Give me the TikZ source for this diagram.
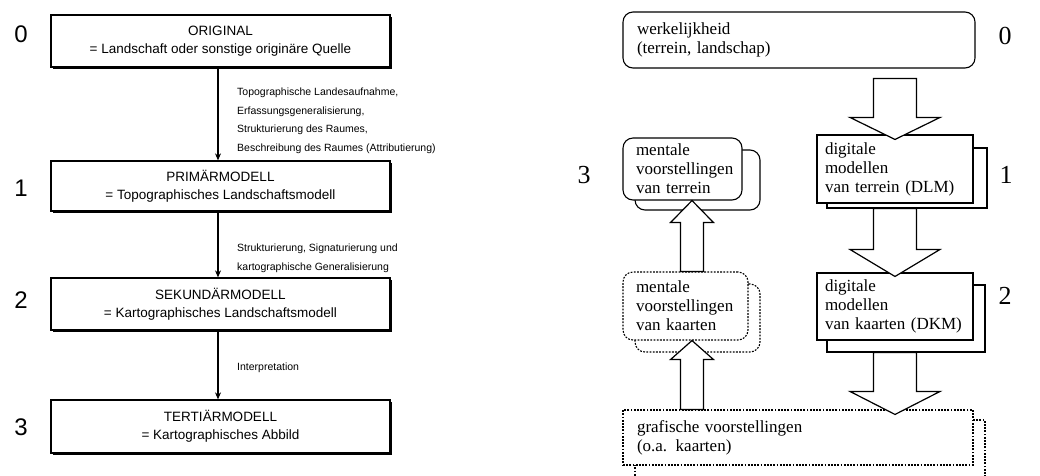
\documentclass[tikz,border=0pt]{standalone}
\usepackage{fontspec}
\setmainfont{Liberation Serif}
\newfontfamily\helv{Liberation Sans}
\usetikzlibrary{calc,arrows.meta,shadows}
\hyphenpenalty=10000
\exhyphenpenalty=10000

% hollow block arrow from #1 to its tip #2;
% #3 half shaft width, #4 half head width, #5 head length
\newcommand\fatarrow[5]{%
  \coordinate (fs) at #1;
  \coordinate (ft) at #2;
  \coordinate (fh) at ($(ft)!#5!(fs)$);
  \draw[hollow] ($(fs)!#3!90:(ft)$) -- ($(fh)!#3!90:(ft)$) -- ($(fh)!#4!90:(ft)$)
    -- (ft) -- ($(fh)!#4!-90:(ft)$) -- ($(fh)!#3!-90:(ft)$) -- ($(fs)!#3!-90:(ft)$) -- cycle;}

\begin{document}
\begin{tikzpicture}[x=1pt,y=-1pt,
  model/.style={draw, line width=1.3pt, fill=white,
    drop shadow={shadow xshift=2.2pt, shadow yshift=-2.2pt, fill=black, opacity=1},
    minimum width=339pt, align=center, inner sep=0pt,
    font=\helv\fontsize{13.5}{18}\selectfont},
  note/.style={anchor=north west, align=left, inner sep=0pt,
    font=\helv\fontsize{10.5}{18.4}\selectfont},
  levelL/.style={inner sep=0pt, font=\helv\fontsize{24}{24}\selectfont},
  levelR/.style={inner sep=0pt, font=\fontsize{26}{26}\selectfont},
  thin arrow/.style={-{Stealth[length=7pt,width=6pt]}, line width=1.1pt},
  card/.style={draw, line width=1.1pt, fill=white, align=left, inner ysep=0pt,
    font=\fontsize{17}{19}\selectfont},
  back/.style={draw, line width=1.1pt, fill=white, inner sep=0pt},
  soft/.style={rounded corners=10pt},
  dots/.style={dash pattern=on 1.8pt off 1.4pt},
  hollow/.style={draw, fill=white, line width=1.2pt, line join=miter}
]
\path[use as bounding box] (0,0) rectangle (1040,475);
\clip (0,0) rectangle (1040,475);
\fill[white] (0,0) rectangle (1040,475);

% ---------------- left: model chain ----------------
\node[model, minimum height=52pt] (orig) at (220.5,41)
  {ORIGINAL\\= Landschaft oder sonstige originäre Quelle};
\node[model, minimum height=50pt] (prim) at (220.5,186)
  {PRIMÄRMODELL\\= Topographisches Landschaftsmodell};
\node[model, minimum height=52pt] (sek) at (220.5,304)
  {SEKUNDÄRMODELL\\= Kartographisches Landschaftsmodell};
\node[model, minimum height=53pt] (tert) at (220.5,426.5)
  {TERTIÄRMODELL\\= Kartographisches Abbild};

\node[levelL] (l0) at (21,34) {0};
\node[levelL] (l1) at (21,188) {1};
\node[levelL] (l2) at (21,300) {2};
\node[levelL] (l3) at (21,427) {3};

\coordinate (ax) at (218,0);
\draw[thin arrow] (orig.south -| ax) -- (prim.north -| ax);
\draw[thin arrow] (prim.south -| ax) -- (sek.north -| ax);
\draw[thin arrow] (sek.south -| ax) -- (tert.north -| ax);

\node[note] (t01) at (237,88) {Topographische Landesaufnahme,\\Erfassungsgeneralisierung,\\Strukturierung des Raumes,\\Beschreibung des Raumes (Attributierung)};
\node[note] (t12) at (237,244) {Strukturierung, Signaturierung und\\kartographische Generalisierung};
\node[note] (t23) at (237,363) {Interpretation};

% ---------------- right: terrain and map models ----------------
\node[card, soft, minimum width=352pt, minimum height=56pt, text width=324pt, inner xsep=14pt]
  (werk) at (799,40) {werkelijkheid\\(terrein, landschap)};

% stacked sheets behind the boxes
\node[back, soft, minimum width=125pt, minimum height=60pt] (ment1b) at (697.5,180) {};
\node[back, minimum width=160pt, minimum height=60pt] (dig1b) at (907,178) {};
\node[back, soft, dots, minimum width=125pt, minimum height=68pt] (ment2b) at (697.5,318) {};
\node[back, minimum width=158pt, minimum height=67pt] (dig2b) at (906,318.5) {};
\node[back, dots, minimum width=350pt, minimum height=75pt] (grafb) at (810,457.5) {};

\node[card, soft, minimum width=119pt, minimum height=62pt, text width=93pt, inner xsep=13pt]
  (ment1) at (682.5,169) {mentale\\voorstellingen\\van terrein};
\node[card, minimum width=156pt, minimum height=68pt, text width=140pt, inner xsep=8pt]
  (dig1) at (895,169) {digitale\\modellen\\van terrein (DLM)};
\node[card, soft, dots, minimum width=125pt, minimum height=68pt, text width=99pt, inner xsep=13pt]
  (ment2) at (685.5,306) {mentale\\voorstellingen\\van kaarten};
\node[card, minimum width=156pt, minimum height=67pt, text width=140pt, inner xsep=8pt]
  (dig2) at (895,306.5) {digitale\\modellen\\van kaarten (DKM)};
\node[card, dots, minimum width=350pt, minimum height=55pt, text width=322pt, inner xsep=14pt]
  (graf) at (798,437.5) {grafische voorstellingen\\(o.a. kaarten)};

\node[levelR] (r0) at (1005,36) {0};
\node[levelR] (r1) at (1006,175) {1};
\node[levelR] (r2) at (1005,296) {2};
\node[levelR] (r3) at (584,175) {3};

% block arrows
\coordinate (ux) at (692,0);
\fatarrow{($(werk.south -| dig1.north)+(0,10)$)}{($(dig1.north)+(0,5)$)}{21.5pt}{45pt}{22pt}
\fatarrow{(dig1b.south -| dig1.south)}{($(dig2.north)+(0,4)$)}{21.5pt}{45pt}{27pt}
\fatarrow{(dig2b.south -| dig2.south)}{($(graf.north -| dig2.south)+(0,5)$)}{21.5pt}{45pt}{23pt}
\fatarrow{(ment2.north -| ux)}{(ment1.south -| ux)}{11.5pt}{21.5pt}{22pt}
\fatarrow{(graf.north -| ux)}{(ment2.south -| ux)}{11.5pt}{21.5pt}{19pt}
\end{tikzpicture}
\end{document}
